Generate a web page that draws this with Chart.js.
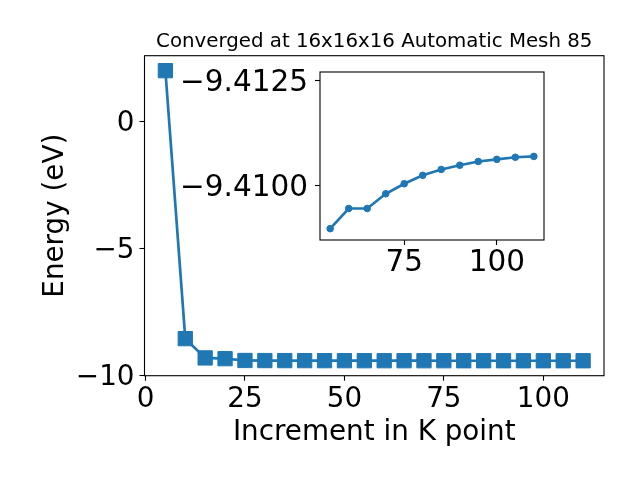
<!DOCTYPE html>
<html><head><meta charset="utf-8">
<script src="https://cdn.jsdelivr.net/npm/chart.js@4.4.0/dist/chart.umd.min.js"></script>
<style>
html,body{margin:0;padding:0;background:#fff;}
#wrap{position:relative;width:640px;height:480px;}
canvas{position:absolute;left:0;top:0;}
</style></head><body>
<div id="wrap">
<canvas id="main" width="640" height="480"></canvas>
<canvas id="inset" width="640" height="480"></canvas>
</div>
<script>
// ---- data ----
const kPoints = [5, 10, 15, 20, 25, 30, 35, 40, 45, 50, 55, 60, 65, 70, 75, 80, 85, 90, 95, 100, 105, 110];
const energy = [2.02, -8.54, -9.30, -9.33, -9.400, -9.403, -9.405, -9.406, -9.407, -9.408,
  -9.40897, -9.40945, -9.40945, -9.40980, -9.41004, -9.41024, -9.41038, -9.41048, -9.41057, -9.41062, -9.41067, -9.41069];
const insetStartK = 55;
const mainXTicks = [0, 25, 50, 75, 100];
const mainYTicks = [0, -5, -10];
const insetXTicks = [75, 100];
const insetYTicks = [-9.4125, -9.4100];
const titleText = 'Converged at 16x16x16 Automatic Mesh 85';
const xLabel = 'Increment in K point';
const yLabel = 'Energy (eV)';

const insetK = kPoints.filter(k => k >= insetStartK);
const insetEnergy = energy.filter((e, i) => kPoints[i] >= insetStartK);

// ---- style ----
const F = 'DejaVu Sans';
const BLUE = '#1f77b4';
const fmt = (v, d) => (v < 0 ? '\u2212' : '') + Math.abs(v).toFixed(d);

const boxPlugin = {
  id: 'box',
  beforeDraw(chart, args, opts) {
    if (opts.fill) {
      const a = chart.chartArea, c = chart.ctx;
      c.save(); c.fillStyle = opts.fill;
      c.fillRect(a.left, a.top, a.right - a.left, a.bottom - a.top);
      c.restore();
    }
  },
  afterDraw(chart) {
    const a = chart.chartArea, c = chart.ctx;
    c.save(); c.strokeStyle = '#000'; c.lineWidth = 1.1;
    c.strokeRect(a.left, a.top, a.right - a.left, a.bottom - a.top);
    c.restore();
  }
};

function axisCommon(tickVals, decimals, pad, size, offset) {
  return {
    type: 'linear',
    afterBuildTicks: s => { s.ticks = tickVals.map(v => ({ value: v })); },
    ticks: { font: { family: F, size: size }, color: '#000', padding: pad, maxRotation: 0, autoSkip: false,
             labelOffset: offset, callback: v => fmt(v, decimals) },
    grid: { display: true, drawOnChartArea: false, drawTicks: true, tickLength: 5, tickColor: '#000', tickWidth: 1.1 },
    border: { display: false }
  };
}

const mainX = Object.assign(axisCommon(mainXTicks, 0, 2, 27.8, 0), {
  min: -0.25, max: 115.25,
  afterFit: s => { s.height = 104.3; },
  title: { display: true, text: xLabel, font: { family: F, size: 27.8 }, color: '#000', padding: { top: 0, bottom: 30.5 } }
});
const mainY = Object.assign(axisCommon(mainYTicks, 0, 5, 27.8, 2), {
  min: -10, max: 2.61,
  afterFit: s => { s.width = 144.5; },
  title: { display: true, text: yLabel, font: { family: F, size: 27.8 }, color: '#000', padding: { top: 39.5, bottom: 0 } }
});

new Chart(document.getElementById('main'), {
  type: 'line',
  data: {
    datasets: [{
      data: kPoints.map((k, i) => ({ x: k, y: energy[i] })),
      borderColor: BLUE, backgroundColor: BLUE, borderWidth: 2.7,
      pointStyle: 'rect', pointRadius: 10.1, pointBorderWidth: 1,
      pointBackgroundColor: BLUE, pointBorderColor: BLUE, tension: 0
    }]
  },
  options: {
    responsive: false, animation: false, devicePixelRatio: 1,
    layout: { padding: { left: 0, right: 36, top: 0, bottom: 0 } },
    scales: { x: mainX, y: mainY },
    plugins: {
      legend: { display: false }, tooltip: { enabled: false },
      title: { display: true, fullSize: false, text: titleText, color: '#000',
               font: { family: F, size: 19.8, weight: 'normal', lineHeight: 1.2 }, padding: { top: 30.1, bottom: 1.84 } },
      box: {}
    }
  },
  plugins: [boxPlugin]
});

const insX = Object.assign(axisCommon(insetXTicks, 0, 1, 29.5, 0), {
  min: 52.25, max: 112.75,
  afterFit: s => { s.height = 50; }
});
const insY = Object.assign(axisCommon(insetYTicks, 4, 7, 29.5, 2.5), {
  min: -9.4127, max: -9.4087, reverse: true,
  afterFit: s => { s.width = 150; }
});

new Chart(document.getElementById('inset'), {
  type: 'line',
  data: {
    datasets: [{
      data: insetK.map((k, i) => ({ x: k, y: insetEnergy[i] })),
      borderColor: BLUE, backgroundColor: BLUE, borderWidth: 2.7,
      pointStyle: 'circle', pointRadius: 3.3, pointBorderWidth: 1,
      pointBackgroundColor: BLUE, pointBorderColor: BLUE, tension: 0
    }]
  },
  options: {
    responsive: false, animation: false, devicePixelRatio: 1,
    layout: { padding: { left: 170, right: 96, top: 72, bottom: 190 } },
    scales: { x: insX, y: insY },
    plugins: { legend: { display: false }, tooltip: { enabled: false }, box: { fill: '#fff' } }
  },
  plugins: [boxPlugin]
});
</script>
</body></html>
